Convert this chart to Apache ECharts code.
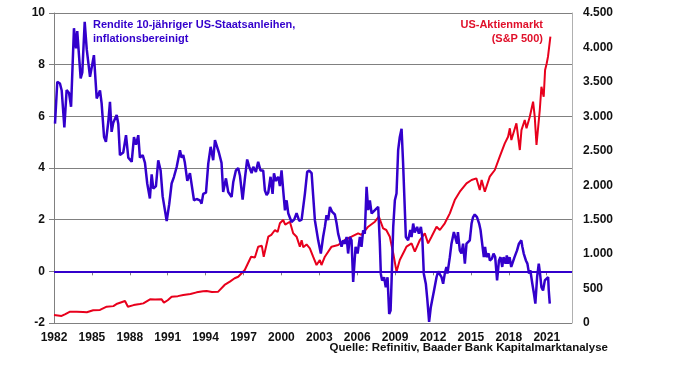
<!DOCTYPE html>
<html>
<head>
<meta charset="utf-8">
<script src="https://cdn.jsdelivr.net/npm/echarts@6/dist/echarts.min.js"></script>
<style>
html,body{margin:0;padding:0;background:#fff;}
#chart{width:684px;height:373px;}
</style>
</head>
<body>
<div id="chart"></div>
<script>
// Real 10y US Treasury yield (left axis, %)
var blueYears = [1982.08,1982.26,1982.47,1982.61,1982.82,1983.0,1983.19,1983.35,1983.58,1983.74,1983.84,1984.11,1984.24,1984.43,1984.59,1984.85,1984.98,1985.16,1985.38,1985.64,1985.77,1985.96,1986.11,1986.3,1986.43,1986.56,1986.69,1986.96,1987.09,1987.22,1987.48,1987.7,1987.88,1988.15,1988.33,1988.49,1988.67,1988.8,1989.02,1989.2,1989.38,1989.59,1989.73,1989.86,1990.07,1990.25,1990.44,1990.6,1990.92,1991.12,1991.31,1991.49,1991.71,1991.83,1991.97,1992.1,1992.23,1992.36,1992.55,1992.76,1992.89,1993.08,1993.29,1993.55,1993.68,1993.81,1994.03,1994.21,1994.4,1994.6,1994.74,1994.87,1995.05,1995.26,1995.39,1995.61,1995.79,1996.06,1996.19,1996.4,1996.58,1996.72,1996.93,1997.11,1997.29,1997.45,1997.64,1997.77,1997.98,1998.16,1998.35,1998.56,1998.69,1998.83,1998.96,1999.14,1999.3,1999.41,1999.56,1999.75,1999.88,2000.01,2000.14,2000.28,2000.41,2000.54,2000.8,2001.01,2001.2,2001.41,2001.6,2001.86,2002.04,2002.2,2002.39,2002.51,2002.65,2002.91,2003.12,2003.3,2003.44,2003.57,2003.7,2003.84,2004.02,2004.23,2004.37,2004.49,2004.76,2004.89,2005.02,2005.16,2005.28,2005.42,2005.55,2005.68,2005.87,2006.03,2006.21,2006.34,2006.47,2006.6,2006.74,2006.87,2007.0,2007.14,2007.26,2007.4,2007.53,2007.66,2007.79,2007.87,2007.97,2008.13,2008.26,2008.4,2008.53,2008.64,2008.72,2008.85,2008.98,2009.11,2009.24,2009.37,2009.51,2009.63,2009.77,2009.85,2010.03,2010.2,2010.3,2010.43,2010.55,2010.74,2010.88,2011.04,2011.15,2011.27,2011.43,2011.55,2011.69,2011.82,2011.93,2012.08,2012.28,2012.41,2012.54,2012.67,2012.8,2012.93,2013.06,2013.14,2013.33,2013.46,2013.65,2013.8,2013.9,2013.97,2014.12,2014.25,2014.38,2014.52,2014.65,2014.78,2014.91,2015.05,2015.17,2015.3,2015.48,2015.65,2015.76,2015.89,2016.02,2016.12,2016.23,2016.4,2016.5,2016.66,2016.79,2016.92,2017.07,2017.22,2017.34,2017.48,2017.58,2017.74,2017.84,2017.93,2018.06,2018.19,2018.32,2018.45,2018.65,2018.8,2018.99,2019.07,2019.18,2019.35,2019.47,2019.6,2019.7,2019.86,2019.99,2020.1,2020.24,2020.37,2020.47,2020.58,2020.71,2020.85,2020.98,2021.11,2021.16,2021.24];
var blueValues = [5.72,7.34,7.27,7.0,5.57,7.02,6.9,6.37,9.41,8.63,9.3,7.47,7.7,9.66,8.6,7.53,7.6,8.37,6.69,7.0,6.5,5.21,5.01,5.8,6.56,5.4,5.75,6.05,5.7,4.5,4.6,5.27,4.4,4.24,5.2,4.9,5.27,4.4,4.5,4.2,3.4,2.82,3.75,3.2,3.3,4.3,3.9,2.9,1.95,2.6,3.4,3.65,4.04,4.0,4.69,4.4,4.5,4.2,3.5,3.8,3.75,2.75,2.8,2.75,2.62,3.0,3.05,4.17,4.82,4.3,5.08,5.1,4.6,4.2,3.07,3.6,3.07,2.88,3.46,3.91,4.0,3.7,2.78,3.6,4.33,4.05,3.8,4.05,3.85,4.24,3.9,3.9,3.14,2.95,3.05,3.66,3.0,3.79,3.5,3.66,3.3,3.91,3.14,2.36,2.75,2.25,1.91,2.0,2.25,1.95,2.0,3.01,3.85,3.9,3.8,2.95,1.98,1.2,0.69,1.33,1.72,2.17,1.98,2.49,2.3,2.2,1.85,1.46,0.95,1.2,1.07,1.33,0.69,1.33,1.2,-0.41,0.95,0.69,1.33,0.95,1.59,1.46,3.27,2.37,2.75,2.24,2.17,2.37,2.37,2.5,1.07,-0.1,-0.36,-0.23,-0.62,-0.23,-1.65,-1.52,-0.36,1.72,2.75,3.01,4.69,5.2,5.52,4.2,2.36,1.33,1.2,1.6,1.33,1.85,1.5,1.72,1.46,1.72,1.33,-0.09,-0.48,-1.1,-1.96,-1.4,-1.12,-0.74,-0.22,0.0,0.04,-0.22,-0.48,-0.09,0.17,-0.09,0.55,1.07,1.52,1.46,1.07,1.52,0.81,0.69,1.07,0.3,1.07,1.07,1.2,1.85,2.1,2.2,2.1,1.85,1.6,1.07,0.55,0.95,0.55,0.69,0.42,0.49,0.69,0.55,-0.35,0.42,0.55,0.17,0.55,0.3,0.62,0.3,0.55,0.17,0.17,0.55,0.81,1.07,1.2,0.95,0.69,0.42,0.3,-0.09,0.04,-0.48,-0.87,-1.25,-0.22,0.3,-0.09,-0.61,-0.74,-0.35,-0.28,-0.22,-0.74,-1.25];

// S&P 500 (right axis, index points)
var redYears = [1982.0,1982.3,1982.6,1982.9,1983.27,1983.8,1984.3,1984.6,1985.1,1985.64,1986.17,1986.7,1987.0,1987.62,1987.7,1987.85,1988.3,1988.8,1989.07,1989.6,1990.0,1990.52,1990.7,1991.0,1991.31,1991.8,1992.23,1992.8,1993.29,1993.8,1994.08,1994.5,1995.0,1995.5,1995.92,1996.3,1996.58,1997.1,1997.6,1997.9,1998.16,1998.45,1998.6,1998.96,1999.2,1999.49,1999.7,1999.88,2000.14,2000.3,2000.67,2000.93,2001.2,2001.46,2001.6,2001.73,2001.99,2002.25,2002.51,2002.78,2003.04,2003.17,2003.44,2003.97,2004.49,2005.02,2005.55,2006.07,2006.34,2006.87,2007.4,2007.71,2008.05,2008.3,2008.58,2008.85,2009.11,2009.37,2009.77,2009.9,2010.3,2010.56,2010.96,2011.35,2011.61,2011.88,2012.28,2012.54,2012.93,2013.33,2013.72,2014.12,2014.65,2015.05,2015.43,2015.7,2015.85,2016.1,2016.49,2016.89,2017.28,2017.68,2017.94,2018.08,2018.2,2018.6,2018.7,2018.87,2019.0,2019.26,2019.4,2019.66,2019.92,2020.05,2020.19,2020.35,2020.45,2020.58,2020.76,2020.87,2021.0,2021.1,2021.29];
var redValues = [116,110,102,130,165,165,160,155,185,190,237,245,280,319,330,237,260,275,285,343,340,343,295,330,382,390,406,420,445,460,464,450,455,552,600,650,672,769,962,950,1108,1120,962,1253,1280,1350,1320,1447,1495,1427,1470,1302,1253,1108,1200,1100,1140,1084,962,842,914,842,962,1108,1132,1205,1253,1302,1278,1398,1470,1543,1374,1350,1253,1012,745,914,1060,1108,1156,1035,1205,1302,1156,1253,1398,1350,1447,1592,1785,1906,2028,2076,2100,1930,2076,1906,2124,2221,2414,2608,2704,2826,2656,2899,2875,2511,2800,2947,2826,2995,3212,2995,2584,2899,3092,3430,3285,3673,3770,3866,4156];

var blueTitle = 'Rendite 10-jähriger US-Staatsanleihen,\ninflationsbereinigt';
var redTitle = 'US-Aktienmarkt\n(S&P 500)';
var sourceText = 'Quelle: Refinitiv, Baader Bank Kapitalmarktanalyse';

var FONT = '"Liberation Sans", Arial, sans-serif';
var BLUE = '#3300CC';
var RED = '#E8001C';

function zip(a, b) { return a.map(function (x, i) { return [x, b[i]]; }); }
function thousands(v) { return String(v).replace(/\B(?=(\d{3})+(?!\d))/g, '.'); }

var chart = echarts.init(document.getElementById('chart'), null, {renderer: 'canvas'});
chart.setOption({
  backgroundColor: '#ffffff',
  animation: false,
  grid: {left: 54, right: 112, top: 13, bottom: 50, containLabel: false},
  xAxis: {
    type: 'value', min: 1982, max: 2023, interval: 3,
    axisLine: {show: true, lineStyle: {color: '#808080', width: 1}},
    axisTick: {show: true, length: 4, lineStyle: {color: '#808080'}},
    splitLine: {show: false},
    axisLabel: {
      showMaxLabel: false, margin: 9,
      color: '#111', fontSize: 12, fontWeight: 'bold', fontFamily: FONT,
      formatter: function (v) { return String(v); }
    }
  },
  yAxis: [{
    type: 'value', min: -2, max: 10, interval: 2, position: 'left',
    axisLine: {show: true, lineStyle: {color: '#808080'}},
    axisTick: {show: true, length: 5, lineStyle: {color: '#808080'}},
    splitLine: {show: true, lineStyle: {color: '#808080', width: 1}},
    axisLabel: {margin: 9, color: '#111', fontSize: 12, fontWeight: 'bold', fontFamily: FONT}
  }, {
    type: 'value', min: 0, max: 4500, interval: 500, position: 'right',
    axisLine: {show: true, lineStyle: {color: '#b0b0b0'}},
    axisTick: {show: false},
    splitLine: {show: false},
    axisLabel: {margin: 11, color: '#111', fontSize: 12, fontWeight: 'bold', fontFamily: FONT,
      formatter: function (v) { return thousands(v); }}
  }],
  series: [{
    name: 'S&P 500', type: 'line', yAxisIndex: 1,
    data: zip(redYears, redValues),
    showSymbol: false, symbol: 'none',
    lineStyle: {color: RED, width: 2}, z: 3
  }, {
    name: 'Rendite', type: 'line', yAxisIndex: 0,
    data: zip(blueYears, blueValues),
    showSymbol: false, symbol: 'none',
    lineStyle: {color: BLUE, width: 2.5}, z: 4,
    markLine: {
      silent: true, symbol: ['none', 'none'], label: {show: false},
      lineStyle: {color: BLUE, width: 2, type: 'solid'},
      data: [{yAxis: 0}]
    }
  }],
  graphic: [{
    type: 'text', left: 93, top: 18,
    style: {text: blueTitle, fill: BLUE, font: 'bold 11px ' + FONT, lineHeight: 14}
  }, {
    type: 'text', right: 141, top: 18,
    style: {text: redTitle, fill: '#E0102A', font: 'bold 11px ' + FONT, lineHeight: 14, textAlign: 'right'}
  }, {
    type: 'text', right: 76, top: 342,
    style: {text: sourceText, fill: '#111', font: 'bold 11.5px ' + FONT}
  }]
});
</script>
</body>
</html>
